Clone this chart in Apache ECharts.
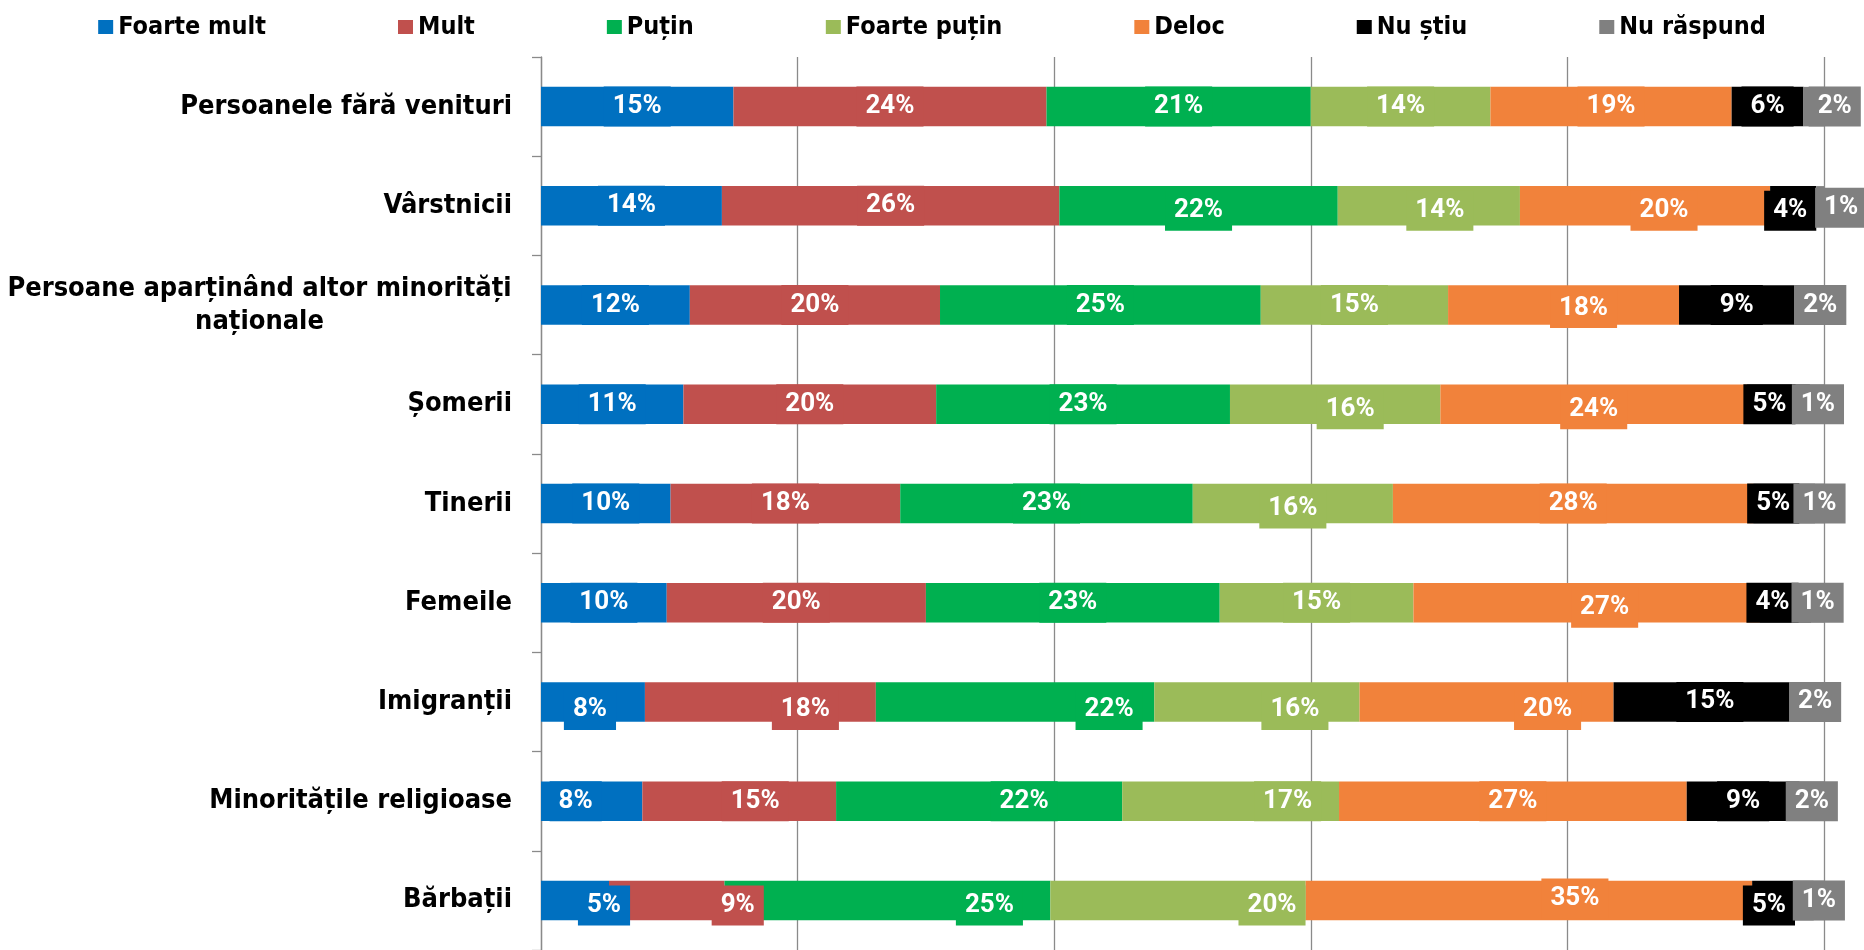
<!DOCTYPE html>
<html>
<head>
<meta charset="utf-8">
<script src="https://cdn.jsdelivr.net/npm/echarts@6/dist/echarts.min.js"></script>
<style>
html,body{margin:0;padding:0;background:#fff;}
#chart{width:1864px;height:950px;}
</style>
</head>
<body>
<div id="chart"></div>
<script>
// ---------- data ----------
const categories = [
  'Persoanele fără venituri',
  'Vârstnicii',
  'Persoane aparținând altor minorități\nnaționale',
  'Șomerii',
  'Tinerii',
  'Femeile',
  'Imigranții',
  'Minoritățile religioase',
  'Bărbații'
];
const seriesNames = ['Foarte mult', 'Mult', 'Puțin', 'Foarte puțin', 'Deloc', 'Nu știu', 'Nu răspund'];

const foarteMult  = [15.0, 14.1, 11.6, 11.1, 10.1,  9.8,  8.1,  7.9,  5.3];
const mult        = [24.4, 26.3, 19.5, 19.7, 17.9, 20.2, 18.0, 15.1,  9.0];
const putin       = [20.6, 21.7, 25.0, 22.9, 22.8, 22.9, 21.7, 22.3, 25.4];
const foartePutin = [14.0, 14.2, 14.6, 16.4, 15.6, 15.1, 16.0, 16.9, 19.9];
const deloc       = [18.8, 19.5, 18.0, 23.9, 28.1, 27.0, 19.8, 27.1, 34.8];
const nuStiu      = [ 5.6,  3.6,  9.0,  4.9,  4.8,  4.0, 14.7,  8.8,  4.8];
const nuRaspund   = [ 1.6,  0.6,  2.3,  1.1,  0.7,  1.0,  1.7,  1.9,  0.8];

const xTicks = [0, 20, 40, 60, 80, 100];

// ---------- styling ----------
const colors = ['#0070C0', '#C0504D', '#00B050', '#9BBB59', '#F1823B', '#000000', '#808080'];
const values = [foarteMult, mult, putin, foartePutin, deloc, nuStiu, nuRaspund];

// label nudges [dx, dy] in px (manual label placement of the original)
const labelNudge = [
  [[0,0],[0,0],[0,0],[0,0],[0,0],[0,0],[-3,8],[-16,0],[29,5]],
  [[0,0],[0,0],[0,0],[0,0],[0,0],[0,0],[45,8],[16,0],[71,5]],
  [[0,0],[0,5],[0,0],[0,0],[0,0],[0,0],[94,8],[45,0],[102,5]],
  [[0,0],[11,5],[0,0],[15,5],[0,5],[0,0],[38,8],[57,0],[94,5]],
  [[0,0],[19,5],[20,3],[0,5],[0,0],[18,5],[61,8],[0,0],[46,-2]],
  [[0,0],[-3,5],[0,0],[-9,0],[-11,0],[-13,0],[2,0],[0,0],[-14,5]],
  [[21,0],[21,2],[11,0],[1,0],[0,0],[0,0],[2,0],[0,0],[0,0]]
];

const catFont = "'DejaVu Sans Condensed', 'DejaVu Sans', sans-serif";
const catSize = 27;

// measure the first line of the wrapped label for centred second line
const cv = document.createElement('canvas').getContext('2d');
cv.font = 'bold ' + catSize + 'px ' + catFont;
const wrapped = categories.find(c => c.indexOf('\n') >= 0);
const wrapW = Math.ceil(Math.max.apply(null, wrapped.split('\n').map(l => cv.measureText(l).width)));

const series = seriesNames.map((name, si) => ({
  name: name,
  type: 'bar',
  stack: 'total',
  barWidth: 39.5,
  itemStyle: { color: colors[si] },
  label: {
    show: true,
    position: 'inside',
    formatter: p => Math.round(p.value) + '%',
    color: '#ffffff',
    fontFamily: 'Roboto, sans-serif',
    fontWeight: 'bold',
    fontSize: 26,
    lineHeight: 30,
    backgroundColor: colors[si],
    padding: [5, 9, 5, 9]
  },
  data: values[si].map((v, ci) => ({
    value: v,
    label: { offset: labelNudge[si][ci] }
  }))
}));

const chart = echarts.init(document.getElementById('chart'), null, { renderer: 'canvas' });
chart.setOption({
  animation: false,
  backgroundColor: '#ffffff',
  legend: {
    data: seriesNames,
    left: 'center',
    top: 12,
    padding: 0,
    icon: 'rect',
    itemWidth: 15,
    itemHeight: 14,
    itemGap: 132,
    textStyle: {
      fontFamily: catFont,
      fontWeight: 'bold',
      fontSize: 25,
      lineHeight: 30,
      color: '#000'
    }
  },
  grid: { left: 541, right: 40, top: 57, bottom: -2, containLabel: false },
  xAxis: {
    type: 'value',
    min: xTicks[0],
    max: xTicks[xTicks.length - 1],
    interval: xTicks[1] - xTicks[0],
    axisLabel: { show: false },
    axisLine: { show: false },
    axisTick: { show: false },
    splitLine: { show: true, lineStyle: { color: '#8a8a8a', width: 1.3 } }
  },
  yAxis: {
    type: 'category',
    inverse: true,
    data: categories,
    axisLine: { show: true, lineStyle: { color: '#8a8a8a', width: 1.3 } },
    axisTick: { show: true, length: 9, lineStyle: { color: '#8a8a8a', width: 1.3 } },
    axisLabel: {
      margin: 29,
      color: '#000',
      fontFamily: catFont,
      fontWeight: 'bold',
      fontSize: catSize,
      formatter: v => v.indexOf('\n') < 0 ? v : v.split('\n').map(l => '{c|' + l + '}').join('\n'),
      rich: {
        c: {
          width: wrapW,
          align: 'center',
          color: '#000',
          fontFamily: catFont,
          fontWeight: 'bold',
          fontSize: catSize,
          lineHeight: 33
        }
      }
    }
  },
  series: series
});
</script>
</body>
</html>
